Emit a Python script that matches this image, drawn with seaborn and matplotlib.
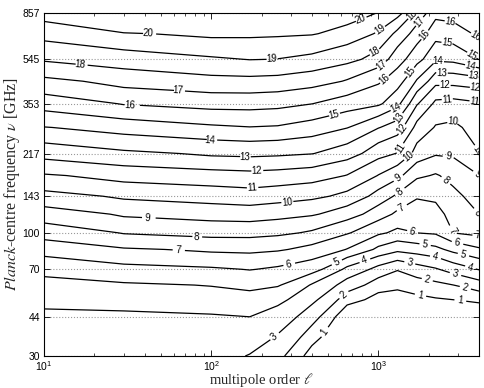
import numpy as np
import matplotlib
matplotlib.use("Agg")
import matplotlib.pyplot as plt
from matplotlib.ticker import NullLocator
import seaborn as sns


# grid of the map: multipole columns, frequency rows
ell = [10, 30, 100, 170, 250, 400, 650, 1000, 1300, 1700, 2200, 2800, 4000]
nu = [30, 36, 44, 52, 60, 70, 85, 100, 120, 143, 175, 217, 280, 353, 440, 545, 700, 857]

# contour value, one list per frequency row (columns follow ell)
z_030 = [3.30, 3.30, 3.30, 2.95, 2.30, 0.50, -1.2, -2.9, -2.3, -2.2, -2.4, -2.7, -3.4]
z_036 = [3.57, 3.57, 3.60, 3.48, 2.90, 1.44, -0.6, -1.8, -1.4, -1.2, -1.3, -1.5, -1.9]
z_044 = [3.85, 3.86, 3.92, 4.00, 3.57, 2.44, 0.10, -0.5, -0.3, -0.15, -0.1, -0.1, -0.15]
z_052 = [4.19, 4.29, 4.47, 4.63, 4.25, 3.24, 1.44, 0.58, 0.52, 0.75, 0.90, 1.00, 1.28]
z_060 = [4.68, 4.88, 5.05, 5.25, 5.09, 3.90, 2.53, 1.49, 1.25, 1.52, 1.76, 1.99, 2.54]
z_070 = [5.30, 5.71, 5.88, 6.04, 5.84, 5.41, 3.73, 2.64, 2.07, 2.56, 2.90, 3.43, 4.06]
z_085 = [6.41, 6.91, 7.19, 7.24, 7.11, 6.68, 5.96, 4.76, 4.26, 4.47, 4.76, 5.29, 5.86]
z_100 = [7.45, 8.07, 8.33, 8.33, 8.20, 7.86, 7.09, 6.17, 5.77, 6.01, 6.12, 7.02, 7.29]
z_120 = [8.54, 9.16, 9.41, 9.49, 9.34, 9.11, 8.45, 7.46, 6.79, 6.54, 6.65, 7.39, 8.02]
z_143 = [9.70, 10.18, 10.45, 10.58, 10.43, 10.22, 9.72, 8.59, 7.81, 7.09, 7.20, 7.74, 8.48]
z_175 = [10.91, 11.41, 11.62, 11.71, 11.63, 11.46, 10.96, 9.96, 9.26, 8.18, 7.91, 8.32, 9.02]
z_217 = [12.41, 12.82, 13.18, 13.25, 13.18, 13.03, 12.46, 11.36, 10.95, 9.61, 9.11, 9.16, 9.98]
z_280 = [13.97, 14.47, 14.85, 14.97, 14.91, 14.59, 14.04, 13.05, 12.50, 10.66, 9.92, 9.79, 10.46]
z_353 = [15.48, 16.07, 16.39, 16.40, 16.31, 16.01, 15.51, 15.17, 14.28, 12.09, 10.76, 10.66, 10.89]
z_440 = [16.78, 17.40, 17.71, 17.74, 17.68, 17.43, 16.91, 16.14, 15.44, 13.90, 12.32, 12.35, 12.58]
z_545 = [18.13, 18.51, 18.88, 19.03, 18.98, 18.75, 18.30, 17.56, 16.42, 15.35, 14.19, 14.28, 15.03]
z_700 = [19.38, 19.95, 20.23, 20.20, 20.15, 20.07, 19.59, 18.87, 17.71, 16.52, 15.40, 15.55, 16.20]
z_857 = [20.47, 21.20, 21.30, 21.20, 21.20, 21.10, 20.60, 19.95, 19.40, 17.67, 16.30, 16.40, 16.70]

levels = list(range(1, 21))
nu_ticks = [30, 44, 70, 100, 143, 217, 353, 545, 857]

z = np.array([z_030, z_036, z_044, z_052, z_060, z_070, z_085, z_100, z_120,
              z_143, z_175, z_217, z_280, z_353, z_440, z_545, z_700, z_857])

sns.set_theme(style="ticks")
plt.rcParams['font.family'] = ['Liberation Sans', 'DejaVu Sans']
plt.rcParams['mathtext.fontset'] = 'stix'
plt.rcParams['axes.edgecolor'] = 'black'
plt.rcParams['axes.linewidth'] = 0.8
plt.rcParams['xtick.color'] = 'black'
plt.rcParams['ytick.color'] = 'black'

fig = plt.figure(figsize=(4.84, 3.88), dpi=100)
ax = fig.add_axes([0.0909, 0.0825, 0.8988, 0.884])
ax.set_xscale('log')
ax.set_yscale('log')
ax.set_xlim(10, 4000)
ax.set_ylim(30, 857)

ax.grid(axis='y', linestyle=':', color='0.6', linewidth=0.8)
ax.set_axisbelow(True)

cs = ax.contour(ell, nu, z, levels=levels, colors='black', linewidths=0.9)

# where the labels sit along each line (ell, nu)
label_spots = {
    20: [(41.9, 690), (798, 785)],
    19: [(231, 552), (1023, 726)],
    18: [(16.4, 500), (955, 580), (1589, 840)],
    17: [(63.3, 392), (1065, 506), (1774, 785)],
    16: [(32.7, 342), (1095, 445), (1900, 690), (2680, 785), (3785, 677)],
    15: [(550, 307), (1589, 476), (2570, 640), (3532, 552)],
    14: [(98.4, 240), (1256, 342), (2271, 531), (3532, 506)],
    13: [(159, 207), (1309, 310), (2400, 481), (3681, 458)],
    12: [(188, 181), (1403, 273), (2500, 433), (3785, 416)],
    11: [(175, 155), (1403, 224), (2570, 384), (3785, 373)],
    10: [(284, 134), (1545, 207), (2754, 304), (3785, 220)],
    9: [(41.3, 114), (1309, 171), (2606, 207), (3891, 176)],
    8: [(81.1, 94), (1345, 149), (2606, 171), (3891, 121)],
    7: [(63.3, 83.4), (1384, 127), (2570, 99.6), (3891, 93)],
    6: [(292, 72.8), (1589, 99.6), (2951, 90)],
    5: [(573, 72.8), (1900, 89), (3207, 80.2)],
    4: [(832, 75), (2183, 78.6), (3532, 70.7)],
    3: [(241, 36), (1545, 75.7), (2871, 66.7)],
    2: [(631, 53.8), (1954, 62.9), (3296, 58.2)],
    1: [(480, 37.8), (1774, 53.8), (3076, 51.2)],
}

# set up label styling once, then place each label on its own level
cs.clabel(manual=[], inline=True, inline_spacing=3, fontsize=7, fmt='%d', colors='black')
for lev, spots in label_spots.items():
    cs.labelIndiceList = [levels.index(lev)]
    for x, y in spots:
        cs.add_label_near(x, y, inline=True, inline_spacing=3)

ax.set_yticks(nu_ticks)
ax.set_yticklabels([str(v) for v in nu_ticks])
ax.yaxis.set_minor_locator(NullLocator())
ax.tick_params(which='both', direction='in', top=True, right=True, labelsize=7.5)
ax.tick_params(axis='x', pad=2)
ax.tick_params(axis='y', pad=3)
ax.tick_params(which='major', length=4, width=0.6)
ax.tick_params(which='minor', length=2, width=0.5)

ax.set_xlabel(r'multipole order $\ell$', fontfamily='Liberation Serif', fontsize=10.5)
ax.xaxis.set_label_coords(0.5, -0.043)
ax.set_ylabel(r'$\mathit{Planck}$-centre frequency $\nu$ [GHz]',
              fontfamily='Liberation Serif', fontsize=11.5)
ax.yaxis.set_label_coords(-0.05, 0.5)

fig.savefig('out.png', dpi=100)
